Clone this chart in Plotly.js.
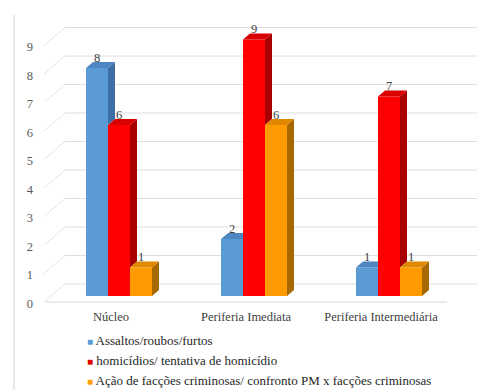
<!DOCTYPE html>
<html>
<head>
<meta charset="utf-8">
<script src="https://cdn.plot.ly/plotly-3.0.1.min.js"></script>
<style>
  html, body { margin: 0; padding: 0; background: #ffffff; }
  #chart { width: 484px; height: 390px; }
</style>
</head>
<body>
<div id="chart"></div>
<script>
// ---- data ----
const categories = ['Núcleo', 'Periferia Imediata', 'Periferia Intermediária'];
const seriesNames = [
  'Assaltos/roubos/furtos',
  'homicídios/ tentativa de homicídio',
  'Ação de facções criminosas/ confronto PM x facções criminosas'
];
const assaltos = [8, 2, 1];
const homicidios = [6, 9, 7];
const faccoes = [1, 6, 1];
const yTicks = [0, 1, 2, 3, 4, 5, 6, 7, 8, 9];

// ---- styling ----
const W = 484, H = 390;
const serif = 'Liberation Serif';
const frontColors = ['#5B9BD5', '#FF0000', '#FF9A00'];
const sideColors  = ['#3E6FA4', '#A80000', '#A86800'];
const topColors   = ['#4F86C2', '#D80000', '#E08800'];
const legendColors = ['#5B9BD5', '#E00000', '#FFA000'];

// pixel geometry of the pseudo-3D box
const pxPerCat = 135;       // horizontal distance between categories
const pxPerUnit = 28.5;     // vertical pixels per value unit
const xDomPx = [40, 477];
const yDomPx = [15, 306];
const basePx = 296;         // bar base line (middle plane)
const tickPx0 = 111;        // first category tick
const depthX = 7, depthY = 6;   // bar depth
const frontShift = 7.5 / pxPerUnit; // front plane below bar plane
const backShift = 12 / pxPerUnit;   // back wall above bar plane

const barW = 22 / pxPerCat;
const groupShift = 8 / pxPerCat;
const dx = depthX / pxPerCat;
const dy = depthY / pxPerUnit;

const xRange = [(xDomPx[0] - tickPx0) / pxPerCat, (xDomPx[1] - tickPx0) / pxPerCat];
const yRange = [-(yDomPx[1] - basePx) / pxPerUnit, (basePx - yDomPx[0]) / pxPerUnit];
const px2paperX = p => p / W;

const series = [assaltos, homicidios, faccoes];
const catIdx = categories.map((_, i) => i);
const offsetOf = s => groupShift - 1.5 * barW + s * barW;

const traces = [];

// front faces
series.forEach((vals, s) => {
  traces.push({
    type: 'bar', x: catIdx, y: vals, width: barW, offset: offsetOf(s),
    marker: { color: frontColors[s], line: { width: 0 } },
    showlegend: false, hoverinfo: 'skip'
  });
});

// side and top faces, hidden parts trimmed against the neighbouring bar
series.forEach((vals, s) => {
  const next = series[s + 1];
  const sx = [], sy = [], tx = [], ty = [];
  vals.forEach((v, c) => {
    const left = c + offsetOf(s);
    const right = left + barW;
    const nv = next ? next[c] : 0;
    if (v > nv) {
      sx.push(right, right + dx, right + dx, right, right, null);
      sy.push(nv, nv + dy, v + dy, v, nv, null);
      tx.push(left, left + dx, right + dx, right, left, null);
      ty.push(v, v + dy, v + dy, v, v, null);
    } else {
      tx.push(left, left + dx, right, right, left, null);
      ty.push(v, v + dy, v + dy, v, v, null);
    }
  });
  if (sx.length) {
    traces.push({ type: 'scatter', x: sx, y: sy, mode: 'lines', fill: 'toself',
      fillcolor: sideColors[s], line: { width: 0 }, showlegend: false, hoverinfo: 'skip' });
  }
  traces.push({ type: 'scatter', x: tx, y: ty, mode: 'lines', fill: 'toself',
    fillcolor: topColors[s], line: { width: 0 }, showlegend: false, hoverinfo: 'skip' });
});

// value labels, resting on the top face
series.forEach((vals, s) => {
  traces.push({
    type: 'scatter', mode: 'text',
    x: catIdx.map(c => c + offsetOf(s) + barW / 2), y: vals.map(v => v + dy * 0.5),
    text: vals.map(String), textposition: 'top center',
    textfont: { family: serif, size: 12.5, color: '#404040' },
    cliponaxis: false, showlegend: false, hoverinfo: 'skip'
  });
});

// legend entries
seriesNames.forEach((name, s) => {
  traces.push({
    type: 'scatter', mode: 'markers', x: [null], y: [null], yaxis: 'y2',
    marker: { color: 'rgba(0,0,0,0)', opacity: 0, size: 1, line: { width: 0 } },
    name: '<span style="color:' + legendColors[s] + ';font-size:10px">■</span> ' + name,
    hoverinfo: 'skip'
  });
});

// back wall grid, floor edges and frame
const shapes = [];
yTicks.forEach(v => {
  shapes.push({ type: 'line', layer: 'below', xref: 'paper', yref: 'y',
    x0: px2paperX(65), x1: px2paperX(477), y0: v + backShift, y1: v + backShift,
    line: { color: '#DEDEDE', width: 1 } });
  shapes.push({ type: 'line', layer: 'below', xref: 'paper', yref: 'y',
    x0: px2paperX(44), x1: px2paperX(65), y0: v - frontShift + 0.05, y1: v + backShift,
    line: { color: '#E4E4E4', width: 1 } });
});
shapes.push({ type: 'line', layer: 'below', xref: 'paper', yref: 'y',
  x0: px2paperX(45), x1: px2paperX(447), y0: -frontShift + 0.05, y1: -frontShift + 0.05,
  line: { color: '#DADADA', width: 1 } });
shapes.push({ type: 'line', xref: 'paper', yref: 'paper',
  x0: px2paperX(14), x1: px2paperX(14), y0: 0, y1: 1 - 15 / H,
  line: { color: '#D4D4D4', width: 1 } });

const layout = {
  width: W, height: H, autosize: false,
  margin: { l: 0, r: 0, t: 0, b: 0, pad: 0, autoexpand: false },
  paper_bgcolor: '#ffffff', plot_bgcolor: 'rgba(0,0,0,0)',
  barmode: 'overlay',
  showlegend: true,
  font: { family: serif, size: 12, color: '#404040' },
  xaxis: {
    domain: [xDomPx[0] / W, xDomPx[1] / W], range: xRange,
    tickvals: catIdx, ticktext: categories,
    showgrid: false, zeroline: false, showline: false,
    ticks: '', ticklabelstandoff: 1,
    tickfont: { family: serif, size: 12.5, color: '#404040' },
    fixedrange: true
  },
  yaxis: {
    domain: [1 - yDomPx[1] / H, 1 - yDomPx[0] / H], range: yRange,
    showgrid: false, zeroline: false, showline: false, showticklabels: false,
    ticks: '', fixedrange: true
  },
  yaxis2: {
    overlaying: 'y', side: 'left', anchor: 'x',
    range: [yRange[0] + frontShift, yRange[1] + frontShift],
    tickvals: yTicks, showgrid: false, zeroline: false, showline: false,
    ticks: '', ticklabelstandoff: 6,
    tickfont: { family: serif, size: 12.5, color: '#595959' },
    fixedrange: true
  },
  legend: {
    x: 47 / W, xanchor: 'left', y: 1 - 325 / H, yanchor: 'top',
    orientation: 'v', bgcolor: 'rgba(0,0,0,0)',
    font: { family: serif, size: 13, color: '#262626' },
    tracegroupgap: 0
  },
  shapes: shapes
};

Plotly.newPlot('chart', traces, layout, { displayModeBar: false, staticPlot: true });
</script>
</body>
</html>
